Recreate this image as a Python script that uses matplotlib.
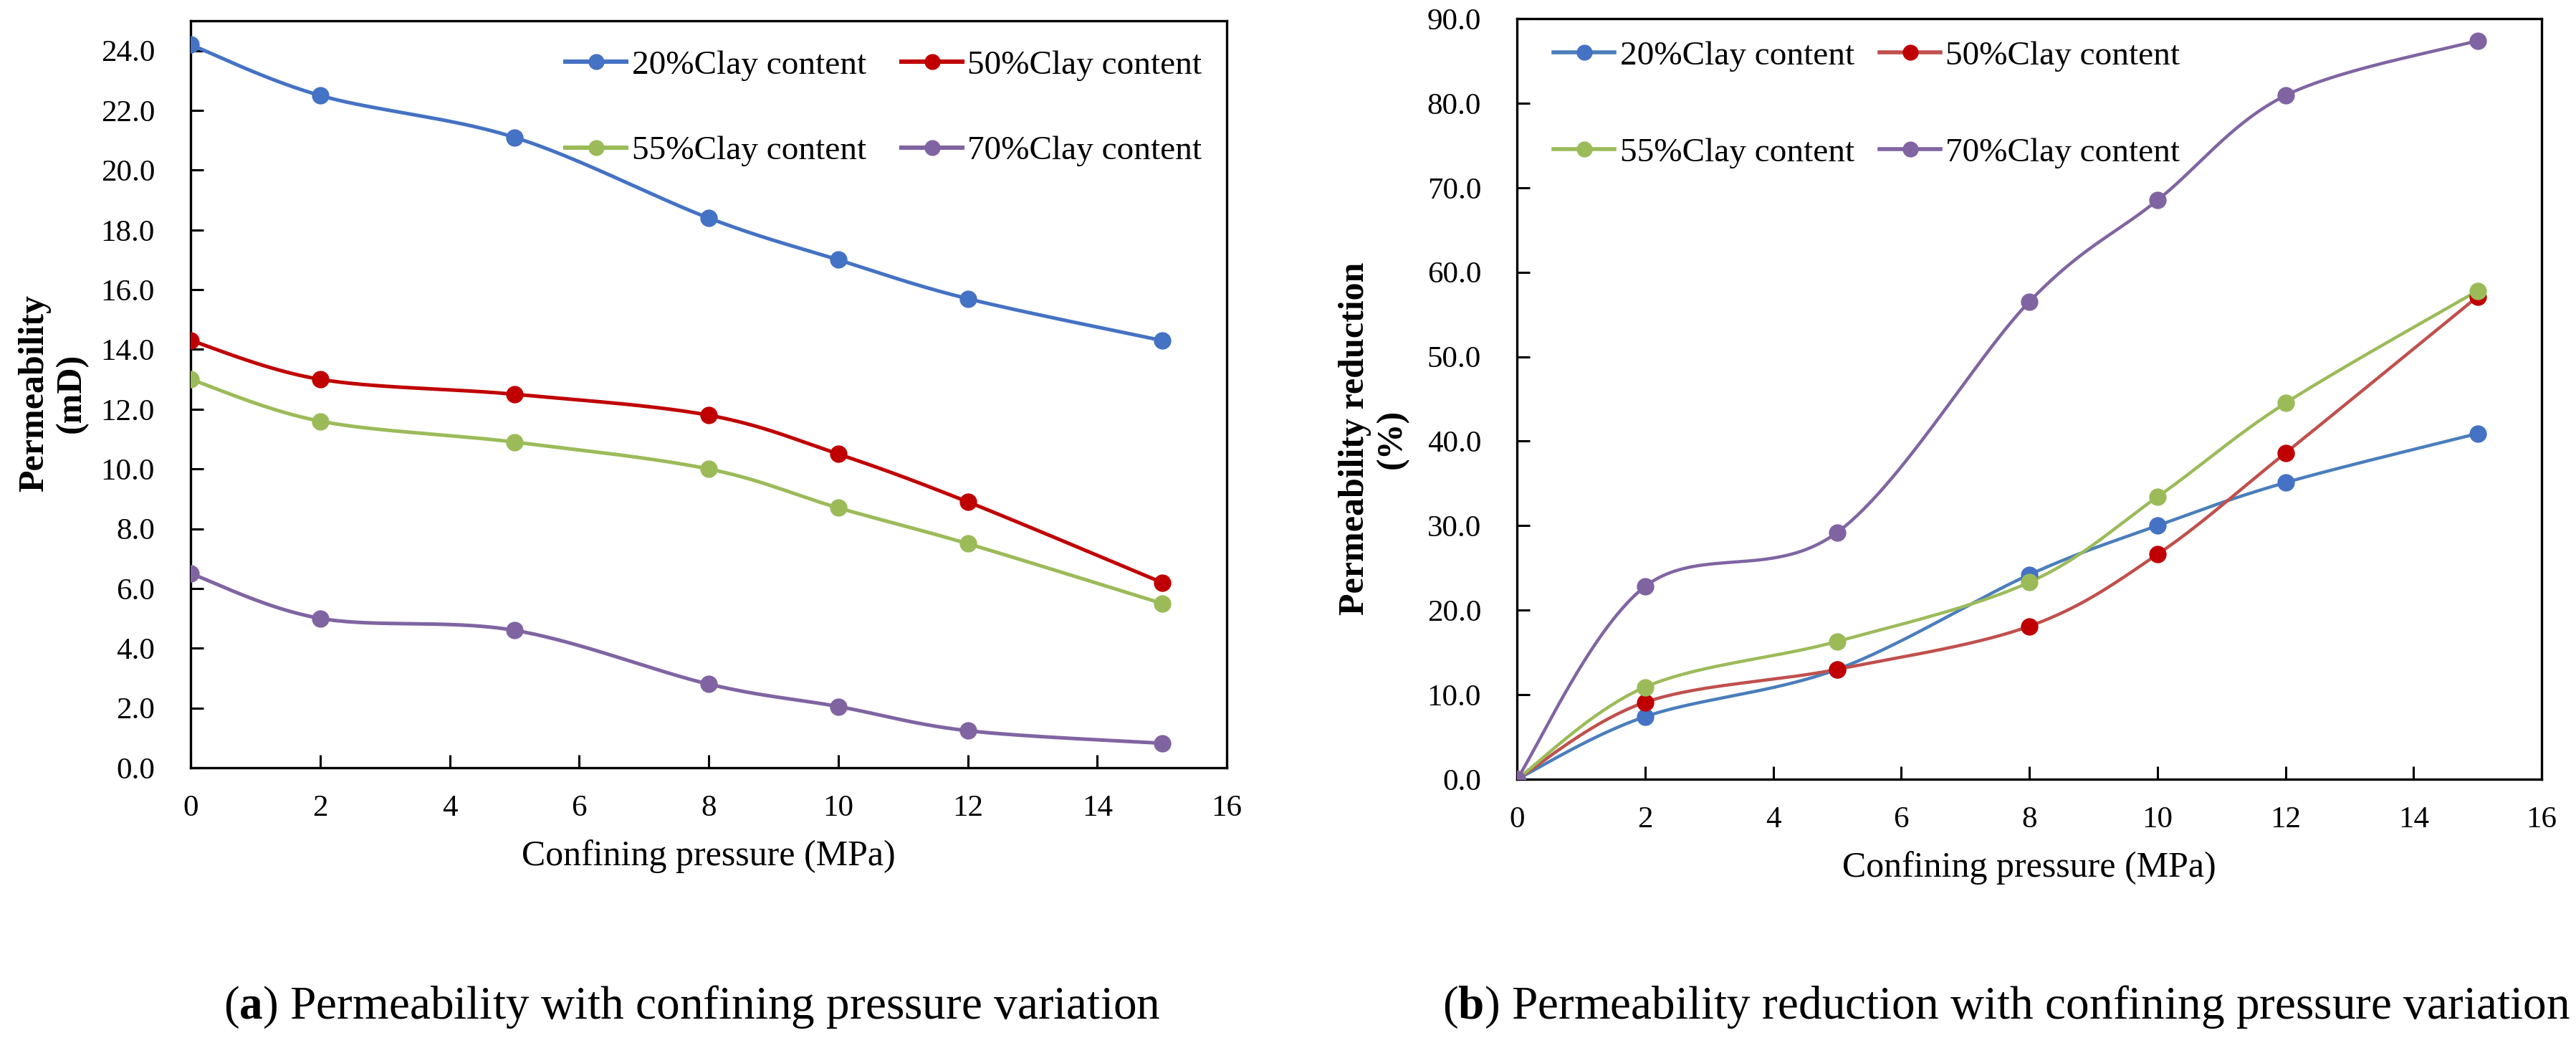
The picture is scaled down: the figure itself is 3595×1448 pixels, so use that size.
import numpy as np
import matplotlib
matplotlib.use("Agg")
import matplotlib.pyplot as plt

plt.rcParams['font.family'] = ['Liberation Serif', 'DejaVu Serif']
plt.rcParams['mathtext.fontset'] = 'custom'
plt.rcParams['mathtext.rm'] = 'Liberation Serif'
plt.rcParams['mathtext.bf'] = 'Liberation Serif:bold'

# ---------------- data ----------------
pressure = [0, 2, 5, 8, 10, 12, 15]
labels = ["20%Clay content", "50%Clay content", "55%Clay content", "70%Clay content"]

perm_20 = [24.2, 22.5, 21.1, 18.4, 17.0, 15.7, 14.3]
perm_50 = [14.3, 13.0, 12.5, 11.8, 10.5, 8.9, 6.2]
perm_55 = [13.0, 11.6, 10.9, 10.0, 8.7, 7.5, 5.5]
perm_70 = [6.5, 5.0, 4.6, 2.8, 2.05, 1.24, 0.82]

red_20 = [0.0, 7.4, 13.0, 24.2, 30.0, 35.1, 40.9]
red_50 = [0.0, 9.1, 13.0, 18.1, 26.6, 38.6, 57.1]
red_55 = [0.0, 10.9, 16.3, 23.3, 33.4, 44.5, 57.8]
red_70 = [0.0, 22.8, 29.2, 56.5, 68.5, 80.9, 87.4]

x_ticks = [0, 2, 4, 6, 8, 10, 12, 14, 16]

# ---------------- styles ----------------
W, H = 3595, 1448
DPI = 100
line_left = ['#4472C4', '#C00000', '#9BBB59', '#8064A2']
mark_left = ['#4472C4', '#C00000', '#9BBB59', '#8064A2']
line_right = ['#4A7EBB', '#C0504D', '#9BBB59', '#8064A2']
mark_right = ['#4472C4', '#C00000', '#9BBB59', '#8064A2']

TICK_FS = 31
LEG_FS = 34
LAB_FS = 36


def excel_smooth(xs, ys, sx, sy, n=60):
    P = np.column_stack([np.asarray(xs, float) * sx, np.asarray(ys, float) * sy])
    segs = []
    for i in range(len(P) - 1):
        p0 = P[i - 1] if i > 0 else P[i]
        p1 = P[i]
        p2 = P[i + 1]
        p3 = P[i + 2] if i + 2 < len(P) else P[i + 1]
        c1 = p1 + (p2 - p0) / 6.0
        c2 = p2 - (p3 - p1) / 6.0
        t = np.linspace(0, 1, n)[:, None]
        seg = (1 - t) ** 3 * p1 + 3 * (1 - t) ** 2 * t * c1 + 3 * (1 - t) * t ** 2 * c2 + t ** 3 * p2
        segs.append(seg if i == 0 else seg[1:])
    S = np.vstack(segs)
    return S[:, 0] / sx, S[:, 1] / sy


def px_rect(l, t, r, b):
    return [l / W, 1 - b / H, (r - l) / W, (b - t) / H]


fig = plt.figure(figsize=(W / DPI, H / DPI), dpi=DPI)
fig.patch.set_facecolor('white')

panels = [
    dict(rect=(266, 29, 1712, 1071), ymax=25, yticks=np.arange(0, 25, 2),
         series=[perm_20, perm_50, perm_55, perm_70], lc=line_left, mc=mark_left,
         lw=3.6, ylabel="Permeability\n(mD)", ylab_xy=(74, 548),
         xlab_xy=(989, 1195), leg_anchor=(0.362, 0.961), leg_ls=1.62, leg_cs=1.05),
    dict(rect=(2117, 26, 3547, 1087), ymax=90, yticks=np.arange(0, 91, 10),
         series=[red_20, red_50, red_55, red_70], lc=line_right, mc=mark_right,
         lw=3.2, ylabel="Permeability reduction\n(%)", ylab_xy=(1917, 612),
         xlab_xy=(2832, 1211), leg_anchor=(0.036, 0.971), leg_ls=1.95, leg_cs=0.75),
]

for p in panels:
    l, t, r, b = p['rect']
    ax = fig.add_axes(px_rect(l, t, r, b))
    sx = (r - l) / 16.0
    sy = (b - t) / p['ymax']
    handles = []
    for ys, lab, lc, mc in zip(p['series'], labels, p['lc'], p['mc']):
        xs_s, ys_s = excel_smooth(pressure, ys, sx, sy)
        ax.plot(xs_s, ys_s, color=lc, lw=p['lw'], solid_capstyle='round', zorder=2)
        ax.plot(pressure, ys, linestyle='none', marker='o', ms=17.5, color=mc,
                markeredgewidth=0, zorder=3)
        h, = ax.plot([], [], color=lc, lw=p['lw'] + 0.8, marker='o', ms=16,
                     markerfacecolor=mc, markeredgewidth=0)
        handles.append(h)
    ax.set_xlim(0, 16)
    ax.set_ylim(0, p['ymax'])
    ax.set_xticks(x_ticks)
    ax.set_yticks(p['yticks'])
    ax.set_yticklabels([f"{v:.1f}" for v in p['yticks']])
    ax.tick_params(axis='both', direction='in', length=13, width=2.2,
                   labelsize=TICK_FS, colors='black')
    ax.tick_params(axis='x', pad=27)
    ax.tick_params(axis='y', pad=36)
    for s in ax.spines.values():
        s.set_linewidth(2.4)
        s.set_color('black')
    # row-wise legend order: (20, 50) on row 1, (55, 70) on row 2
    order = [0, 2, 1, 3]
    ax.legend([handles[i] for i in order], [labels[i] for i in order], ncol=2,
              loc='upper left', bbox_to_anchor=p['leg_anchor'], frameon=False,
              fontsize=LEG_FS, handlelength=1.8, handletextpad=0.15, borderpad=0,
              borderaxespad=0, labelspacing=p['leg_ls'], columnspacing=p['leg_cs'])
    # axis labels
    fig.text(p['xlab_xy'][0] / W, 1 - p['xlab_xy'][1] / H, "Confining pressure (MPa)",
             ha='center', va='center', fontsize=LAB_FS)
    fig.text(p['ylab_xy'][0] / W, 1 - p['ylab_xy'][1] / H, p['ylabel'],
             ha='center', va='center', rotation=90, fontsize=LAB_FS,
             fontweight='bold', linespacing=1.15, multialignment='center')

fig.text(966 / W, 1 - 1421 / H,
         r"($\mathbf{a}$) Permeability with confining pressure variation",
         ha='center', va='baseline', fontsize=47)
fig.text(2800 / W, 1 - 1421 / H,
         r"($\mathbf{b}$) Permeability reduction with confining pressure variation",
         ha='center', va='baseline', fontsize=47)

fig.savefig("out.png", dpi=DPI, facecolor='white')
